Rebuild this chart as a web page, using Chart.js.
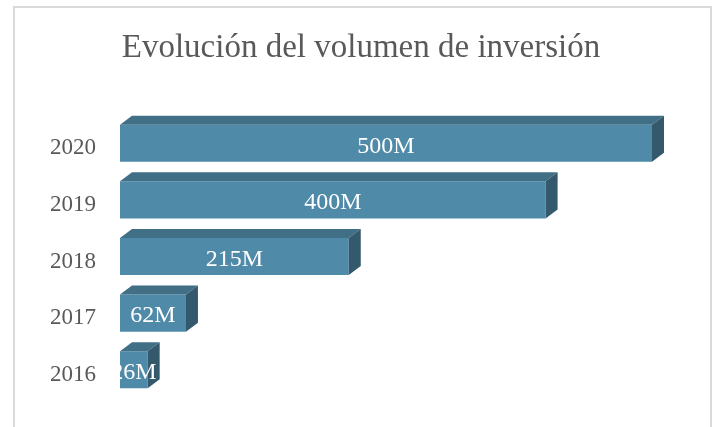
<!DOCTYPE html>
<html>
<head>
<meta charset="utf-8">
<script src="https://cdn.jsdelivr.net/npm/chart.js@4"></script>
<style>
  body { margin: 0; background: #fff; }
  #wrap { position: relative; width: 715px; height: 427px; overflow: hidden; }
  #frame { position: absolute; left: 13px; top: 6px; width: 695px; height: 440px; border: 2px solid #d9d9d9; }
  canvas { position: absolute; left: 0; top: 0; }
</style>
</head>
<body>
<div id="wrap">
  <div id="frame"></div>
  <canvas id="myChart" width="715" height="427"></canvas>
</div>
<script>
// chart data
var years = ['2020', '2019', '2018', '2017', '2016'];
var volumes = [500, 400, 215, 62, 26];
var valueLabels = ['500M', '400M', '215M', '62M', '26M'];
var chartTitle = 'Evolución del volumen de inversión';

var frontColor = '#4f8aa9';
var topColor = '#416f86';
var sideColor = '#35596c';
var depthX = 12, depthY = 9;
var serif = '"Liberation Serif", serif';

// title drawn centred on the frame, not on the plot area
var titlePlugin = {
  id: 'titlePlugin',
  afterDraw(chart) {
    const ctx = chart.ctx;
    ctx.save();
    ctx.fillStyle = '#595959';
    ctx.font = '33px ' + serif;
    ctx.textAlign = 'center';
    ctx.textBaseline = 'middle';
    ctx.fillText(chartTitle, 361, 48);
    ctx.restore();
  }
};

// draws the top + side faces of each bar and the value text
var bars3d = {
  id: 'bars3d',
  afterDatasetsDraw(chart) {
    const ctx = chart.ctx;
    const meta = chart.getDatasetMeta(0);
    meta.data.forEach((bar, i) => {
      const left = bar.base, right = bar.x;
      const top = bar.y - bar.height / 2, bottom = bar.y + bar.height / 2;
      ctx.save();
      ctx.fillStyle = topColor;
      ctx.beginPath();
      ctx.moveTo(left, top);
      ctx.lineTo(left + depthX, top - depthY);
      ctx.lineTo(right + depthX, top - depthY);
      ctx.lineTo(right, top);
      ctx.closePath();
      ctx.fill();
      ctx.fillStyle = sideColor;
      ctx.beginPath();
      ctx.moveTo(right, top);
      ctx.lineTo(right + depthX, top - depthY);
      ctx.lineTo(right + depthX, bottom - depthY);
      ctx.lineTo(right, bottom);
      ctx.closePath();
      ctx.fill();
      ctx.fillStyle = '#ffffff';
      ctx.font = '24px ' + serif;
      ctx.textAlign = 'center';
      ctx.textBaseline = 'middle';
      ctx.fillText(valueLabels[i], (left + right) / 2, bar.y + 3);
      ctx.restore();
    });
  }
};

const ctx = document.getElementById('myChart').getContext('2d');
const myChart = new Chart(ctx, {
  type: 'bar',
  data: {
    labels: years,
    datasets: [{
      data: volumes,
      backgroundColor: frontColor,
      borderWidth: 0,
      barPercentage: 0.655,
      categoryPercentage: 1
    }]
  },
  options: {
    indexAxis: 'y',
    responsive: false,
    animation: false,
    layout: { padding: { left: 10, right: 63, top: 115, bottom: 0 } },
    plugins: {
      legend: { display: false },
      tooltip: { enabled: false },
      title: { display: false }
    },
    scales: {
      x: { display: false, min: 0, max: 500 },
      y: {
        grid: { display: false, drawTicks: false },
        border: { display: false },
        ticks: {
          color: '#595959',
          padding: 24,
          labelOffset: 5,
          font: { family: serif, size: 23 }
        },
        afterFit(scale) {
          scale.width = 110;
          scale.paddingBottom = 29;
          scale.paddingTop = 0;
        }
      }
    }
  },
  plugins: [bars3d, titlePlugin]
});
</script>
</body>
</html>
